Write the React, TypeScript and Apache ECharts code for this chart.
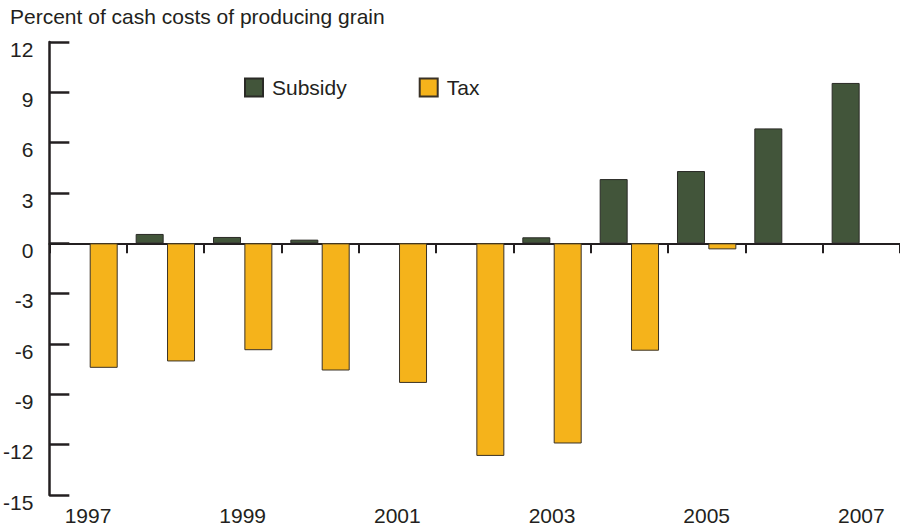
import React, { useEffect, useRef } from "react";
import * as echarts from "echarts";

const years = ["1997", "1998", "1999", "2000", "2001", "2002", "2003", "2004", "2005", "2006", "2007"];
const subsidy = [null, 0.56, 0.38, 0.22, null, null, 0.36, 3.83, 4.31, 6.85, 9.56];
const tax = [-7.42, -7.04, -6.37, -7.58, -8.32, -12.67, -11.93, -6.4, -0.36, null, null];
const yTicks = { min: -15, max: 12, interval: 3 };
const titleText = "Percent of cash costs of producing grain";

const INK = "#231f20";
const FONT = "'Liberation Sans', Arial, Helvetica, sans-serif";

export default function App() {
  const ref = useRef<HTMLDivElement>(null);
  useEffect(() => {
    if (!ref.current) return;
    const chart = echarts.init(ref.current, null, { renderer: "svg" });
    chart.setOption({
      animation: false,
      backgroundColor: "#ffffff",
      textStyle: { fontFamily: FONT },
      graphic: [
        {
          type: "text",
          left: 10,
          top: 6,
          style: { text: titleText, fontSize: 21, fill: INK, fontFamily: FONT },
        },
      ],
      legend: {
        left: 244,
        top: 77,
        itemWidth: 18,
        itemHeight: 18,
        itemGap: 72,
        icon: "rect",
        padding: 0,
        textStyle: { fontSize: 21, color: INK, fontFamily: FONT, padding: [0, 0, 2, 4] },
        data: ["Subsidy", "Tax"],
      },
      grid: { left: 49, top: 42, width: 853, height: 453, containLabel: false },
      xAxis: [
        {
          type: "category",
          data: years,
          position: "bottom",
          axisLine: { show: false, onZero: false },
          axisTick: { show: false },
          axisLabel: {
            interval: 1,
            fontSize: 21,
            color: INK,
            margin: 10,
            fontFamily: FONT,
          },
        },
        {
          type: "category",
          data: years,
          position: "top",
          axisLine: { show: true, onZero: true, lineStyle: { color: INK, width: 2 } },
          axisTick: { show: true, inside: true, length: 10, lineStyle: { color: INK, width: 2 } },
          axisLabel: { show: false },
        },
      ],
      yAxis: {
        type: "value",
        min: yTicks.min,
        max: yTicks.max,
        interval: yTicks.interval,
        axisLine: { show: true, onZero: false, lineStyle: { color: INK, width: 2.5 } },
        axisTick: { show: true, inside: true, length: 20, lineStyle: { color: INK, width: 2.5 } },
        splitLine: { show: false },
        axisLabel: {
          fontSize: 21,
          color: INK,
          margin: 16,
          fontFamily: FONT,
          verticalAlign: "top",
          lineHeight: 14,
        },
      },
      series: [
        {
          name: "Subsidy",
          type: "bar",
          xAxisIndex: 0,
          data: subsidy,
          barWidth: 28,
          barGap: "12%",
          itemStyle: { color: "#42553a", borderColor: "#2a2a26", borderWidth: 1 },
        },
        {
          name: "Tax",
          type: "bar",
          xAxisIndex: 0,
          data: tax,
          barWidth: 28,
          barGap: "12%",
          itemStyle: { color: "#f5b31b", borderColor: "#3a3226", borderWidth: 1 },
        },
      ],
    });
    return () => chart.dispose();
  }, []);
  return <div ref={ref} style={{ width: 900, height: 527, position: "absolute", left: 0, top: 0 }} />;
}
